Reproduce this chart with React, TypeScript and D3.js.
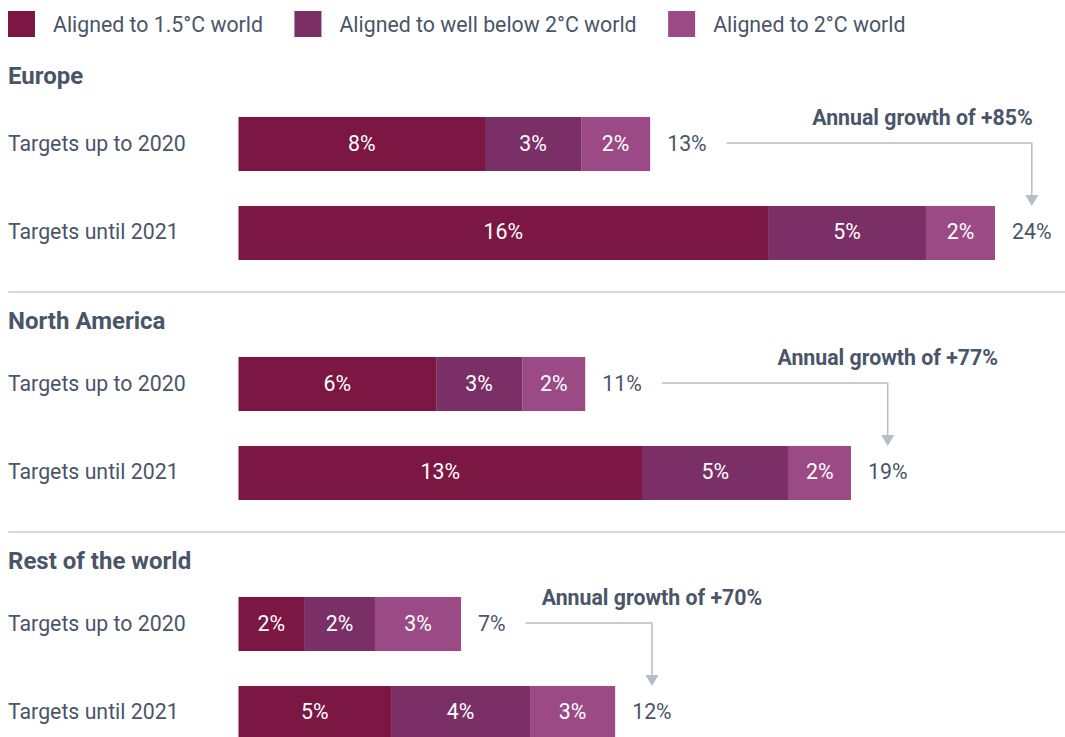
import React, { useEffect, useRef } from "react";
import * as d3 from "d3";

const regions = ["Europe", "North America", "Rest of the world"];
const periods = ["Targets up to 2020", "Targets until 2021"];
const seriesKeys = ["a15", "wb2", "a2"];
const seriesNames = ["Aligned to 1.5°C world", "Aligned to well below 2°C world", "Aligned to 2°C world"];
const seriesColors = ["#7B1742", "#7A2F66", "#9B4A85"];

// order: Europe 2020, Europe 2021, NA 2020, NA 2021, RoW 2020, RoW 2021
const aligned15 = [7.82, 16.8, 6.27, 12.8, 2.08, 4.84];
const wellBelow2 = [3.05, 5.01, 2.73, 4.66, 2.25, 4.41];
const aligned2 = [2.19, 2.19, 2.0, 1.97, 2.73, 2.7];
const aligned15Labels = ["8%", "16%", "6%", "13%", "2%", "5%"];
const wellBelow2Labels = ["3%", "5%", "3%", "5%", "2%", "4%"];
const aligned2Labels = ["2%", "2%", "2%", "2%", "3%", "3%"];
const totalLabels = ["13%", "24%", "11%", "19%", "7%", "12%"];
const growthLabels = ["Annual growth of +85%", "Annual growth of +77%", "Annual growth of +70%"];

const W = 1065;
const H = 737;
const TEXT = "#4A5568";
const FONT = "Roboto, 'Noto Sans', sans-serif";
const FS = 21.3;

export default function App() {
  const ref = useRef<SVGSVGElement>(null);

  useEffect(() => {
    const svg = d3.select(ref.current);
    svg.selectAll("*").remove();

    const table = aligned15.map((v, i) => ({
      a15: v,
      wb2: wellBelow2[i],
      a2: aligned2[i],
      labels: [aligned15Labels[i], wellBelow2Labels[i], aligned2Labels[i]],
    }));
    const stacked = d3.stack<any>().keys(seriesKeys)(table);

    const x = d3.scaleLinear().domain([0, 24]).range([238.5, 995]);
    const sectionY = d3.scaleBand<string>().domain(regions).range([52, 772]);
    const rowY = d3
      .scaleBand<string>()
      .domain(periods)
      .range([65, 208])
      .paddingInner(0.393)
      .paddingOuter(0);
    const bw = rowY.bandwidth();

    // Legend
    const legend = svg.append("g");
    let lx = 8;
    seriesNames.forEach((name, i) => {
      legend
        .append("rect")
        .attr("x", lx)
        .attr("y", 11)
        .attr("width", 27)
        .attr("height", 26)
        .attr("fill", seriesColors[i]);
      const t = legend
        .append("text")
        .attr("x", lx + 45)
        .attr("y", 32.3)
        .attr("font-size", FS)
        .attr("fill", TEXT)
        .text(name);
      const w = (t.node() as SVGTextElement).getComputedTextLength();
      lx = lx + 45 + w + 31.5;
    });

    regions.forEach((region, ri) => {
      const top = sectionY(region)!;
      const g = svg.append("g");

      if (ri > 0) {
        g.append("line")
          .attr("x1", 8)
          .attr("x2", W)
          .attr("y1", top)
          .attr("y2", top)
          .attr("stroke", "#C8CDD4")
          .attr("stroke-width", 1.5);
      }

      g.append("text")
        .attr("x", 8)
        .attr("y", ri === 0 ? 84 : top + 37)
        .attr("font-size", 24)
        .attr("font-weight", 700)
        .attr("fill", TEXT)
        .text(region);

      const totalBoxes: { x0: number; x1: number }[] = [];
      const tops: number[] = [];

      periods.forEach((period, pi) => {
        const idx = ri * 2 + pi;
        const y0 = top + rowY(period)!;
        const cy = y0 + bw / 2;
        tops.push(y0);

        g.append("text")
          .attr("x", 8)
          .attr("y", cy + 6.5)
          .attr("font-size", FS)
          .attr("fill", TEXT)
          .text(period);

        stacked.forEach((layer, si) => {
          const d = layer[idx];
          const xa = x(d[0]);
          const xb = x(d[1]);
          g.append("rect")
            .attr("x", xa)
            .attr("y", y0)
            .attr("width", xb - xa)
            .attr("height", bw)
            .attr("fill", seriesColors[si]);
          g.append("text")
            .attr("x", (xa + xb) / 2)
            .attr("y", cy + 6.5)
            .attr("text-anchor", "middle")
            .attr("font-size", FS)
            .attr("fill", "#FFFFFF")
            .text(table[idx].labels[si]);
        });

        const end = x(stacked[stacked.length - 1][idx][1]);
        const tt = g
          .append("text")
          .attr("x", end + 17)
          .attr("y", cy + 6.5)
          .attr("font-size", FS)
          .attr("fill", TEXT)
          .text(totalLabels[idx]);
        const tw = (tt.node() as SVGTextElement).getComputedTextLength();
        totalBoxes.push({ x0: end + 17, x1: end + 17 + tw });
      });

      // connector arrow
      const lineY = tops[0] + bw / 2 - 1;
      const xs = totalBoxes[0].x1 + 20;
      const ax = (totalBoxes[1].x0 + totalBoxes[1].x1) / 2;
      const tipY = tops[1];
      g.append("path")
        .attr("d", `M${xs},${lineY}H${ax}V${tipY - 11}`)
        .attr("fill", "none")
        .attr("stroke", "#B5BDC6")
        .attr("stroke-width", 1.5);
      g.append("path")
        .attr("d", `M${ax - 6.5},${tipY - 11}L${ax + 6.5},${tipY - 11}L${ax},${tipY}Z`)
        .attr("fill", "#B5BDC6");

      const gt = g
        .append("text")
        .attr("x", ax)
        .attr("y", tops[0] + 7.5)
        .attr("text-anchor", "middle")
        .attr("font-size", FS)
        .attr("font-weight", 700)
        .attr("fill", TEXT)
        .text(growthLabels[ri]);
      const gw = (gt.node() as SVGTextElement).getComputedTextLength();
      if (ax + gw / 2 > W - 20) {
        gt.attr("text-anchor", "end").attr("x", ax + 1);
      }
    });
  }, []);

  return (
    <svg
      ref={ref}
      width={W}
      height={H}
      style={{ position: "absolute", left: 0, top: 0, background: "#FFFFFF", fontFamily: FONT }}
    />
  );
}
